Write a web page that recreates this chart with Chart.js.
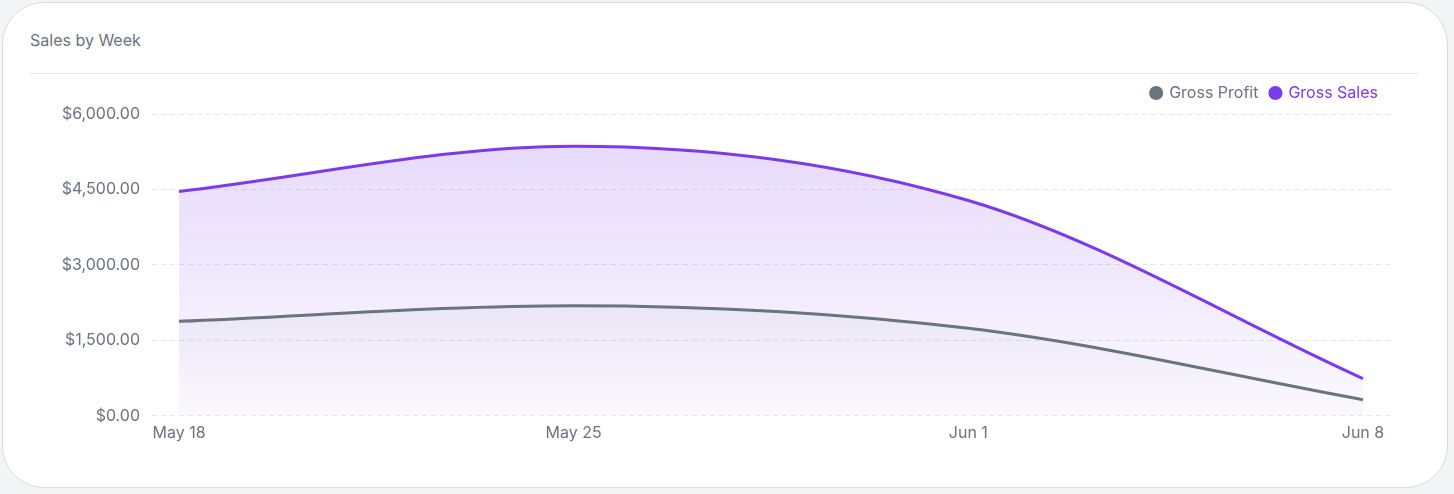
<!DOCTYPE html>
<html>
<head>
<meta charset="utf-8">
<script src="https://cdn.jsdelivr.net/npm/chart.js@4.4.1/dist/chart.umd.min.js"></script>
<style>
    html, body { margin: 0; padding: 0; background: #f3f4f6; }
    body { width: 1454px; height: 494px; position: relative; font-family: Inter, sans-serif; overflow: hidden; }
    .card {
        position: absolute; left: 2px; top: 2px; width: 1446px; height: 486px;
        background: #fff; border: 1px solid #d9dadd; border-radius: 42px; box-sizing: border-box;
    }
    .title { position: absolute; left: 27px; top: 27px; font-size: 16px; color: #6b7280; }
    .divider { position: absolute; left: 27px; right: 29px; top: 70px; border-top: 1px solid #e5e7eb; }
    .chart-box { position: absolute; left: 27px; top: 69px; width: 1389px; height: 385px; }
</style>
</head>
<body>
<div class="card">
    <div class="title">Sales by Week</div>
    <div class="divider"></div>
    <div class="chart-box"><canvas id="salesChart"></canvas></div>
</div>
<script>
// semanas exibidas no eixo x
const weeks = ['May 18', 'May 25', 'Jun 1', 'Jun 8'];
const grossProfit = [1880, 2190, 1740, 320];
const grossSales = [4460, 5360, 4280, 740];
const yTicks = [0, 1500, 3000, 4500, 6000];

const purple = '#7c3aed';
const gray = '#6b7280';

const formatCurrency = (value) => '$' + Number(value).toLocaleString('en-US', { minimumFractionDigits: 2, maximumFractionDigits: 2 });

// gradiente vertical para o preenchimento das áreas
function makeGradient(context, rgb, topAlpha, bottomAlpha) {
    const chart = context.chart;
    const area = chart.chartArea;
    if (!area) return `rgba(${rgb}, ${topAlpha})`;
    const g = chart.ctx.createLinearGradient(0, area.top, 0, area.bottom);
    g.addColorStop(0, `rgba(${rgb}, ${topAlpha})`);
    g.addColorStop(1, `rgba(${rgb}, ${bottomAlpha})`);
    return g;
}

const toPoints = (arr) => arr.map((v, i) => ({ x: i, y: v }));

// espaço extra abaixo da legenda
const legendMargin = {
    id: 'legendMargin',
    beforeInit(chart) {
        const fit = chart.legend.fit;
        chart.legend.fit = function () {
            fit.bind(chart.legend)();
            this.height += 3;
        };
    }
};

Chart.defaults.font.family = 'Inter, sans-serif';
Chart.defaults.font.size = 16;
Chart.defaults.color = '#6b7280';

const ctx = document.getElementById('salesChart').getContext('2d');
new Chart(ctx, {
    type: 'line',
    data: {
        datasets: [{
            label: 'Gross Profit',
            data: toPoints(grossProfit),
            borderColor: gray,
            backgroundColor: (c) => makeGradient(c, '107, 114, 128', 0.16, 0.0),
            borderWidth: 3,
            fill: 'origin',
            pointRadius: 0,
            cubicInterpolationMode: 'monotone'
        }, {
            label: 'Gross Sales',
            data: toPoints(grossSales),
            borderColor: purple,
            backgroundColor: (c) => makeGradient(c, '124, 58, 237', 0.2, 0.03),
            borderWidth: 3,
            fill: 'origin',
            pointRadius: 0,
            cubicInterpolationMode: 'monotone'
        }]
    },
    plugins: [legendMargin],
    options: {
        responsive: true,
        maintainAspectRatio: false,
        animation: false,
        layout: { padding: { left: 0, right: 29, top: 1, bottom: 6 } },
        plugins: {
            tooltip: { enabled: false },
            legend: {
                position: 'top',
                align: 'end',
                labels: {
                    usePointStyle: true,
                    pointStyle: 'circle',
                    boxWidth: 10,
                    boxHeight: 10,
                    padding: 12,
                    font: { size: 16 },
                    generateLabels: (chart) => chart.data.datasets.map((ds, i) => ({
                        text: ds.label,
                        fillStyle: ds.borderColor,
                        strokeStyle: ds.borderColor,
                        fontColor: ds.borderColor,
                        lineWidth: 0,
                        pointStyle: 'circle',
                        datasetIndex: i,
                        hidden: !chart.isDatasetVisible(i)
                    }))
                }
            }
        },
        scales: {
            x: {
                type: 'linear',
                min: -0.0685,
                max: weeks.length - 1 + 0.0685,
                afterBuildTicks: (scale) => { scale.ticks = weeks.map((w, i) => ({ value: i })); },
                ticks: {
                    padding: 8,
                    maxRotation: 0,
                    callback: (value) => weeks[value]
                },
                grid: { display: false, drawTicks: false },
                border: { display: false }
            },
            y: {
                min: 0,
                max: 6000,
                afterBuildTicks: (scale) => { scale.ticks = yTicks.map(v => ({ value: v })); },
                afterFit: (scale) => { scale.width = 122; },
                ticks: {
                    padding: 12,
                    callback: (value) => formatCurrency(value)
                },
                grid: { color: '#e5e7eb', drawTicks: false, lineWidth: 1 },
                border: { display: false, dash: [5, 4] }
            }
        }
    }
});
</script>
</body>
</html>
